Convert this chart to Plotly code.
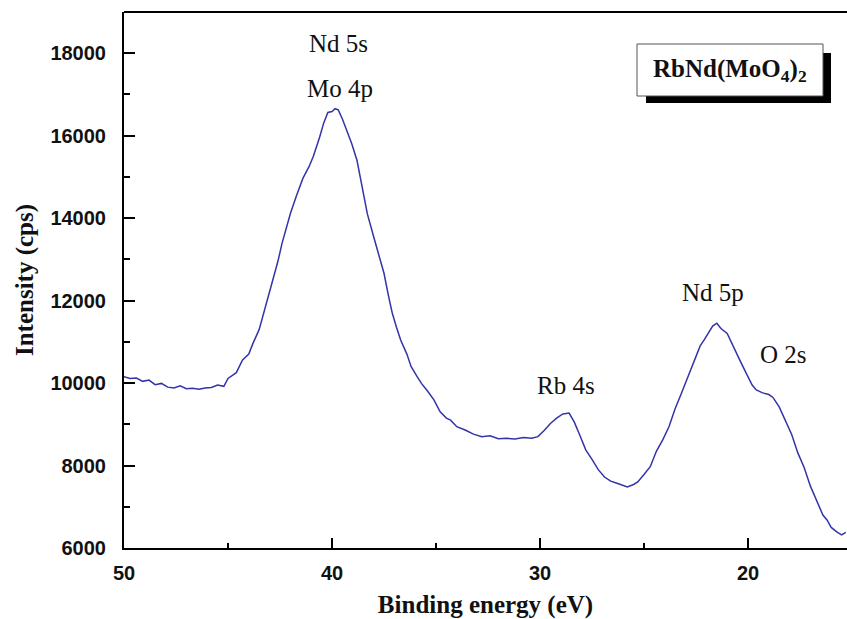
import plotly.graph_objects as go

# Binding energy (eV) and intensity (cps)
energy = [50.0, 49.7, 49.4, 49.1, 48.8, 48.5, 48.2, 47.9, 47.6, 47.3, 47.0, 46.7, 46.4, 46.1,
          45.8, 45.5, 45.2, 45.0, 44.6, 44.3, 44.0, 43.8, 43.5, 43.2, 42.95, 42.8, 42.6, 42.4,
          42.2, 42.0, 41.7, 41.4, 41.1, 40.9, 40.6, 40.4, 40.2, 40.0, 39.85, 39.7, 39.5, 39.3,
          39.05, 38.8, 38.5, 38.3, 38.0, 37.7, 37.5, 37.3, 37.1, 36.9, 36.7, 36.4, 36.2, 35.9,
          35.7, 35.4, 35.1, 34.8, 34.5, 34.3, 34.0, 33.6, 33.2, 32.8, 32.4, 32.0, 31.6, 31.2,
          30.8, 30.4, 30.1, 29.8, 29.5, 29.2, 28.9, 28.6, 28.35, 28.1, 27.8, 27.5, 27.2, 26.9,
          26.6, 26.3, 26.0, 25.8, 25.5, 25.3, 25.0, 24.7, 24.4, 24.1, 23.8, 23.5, 23.2, 22.9,
          22.6, 22.3, 22.1, 21.9, 21.7, 21.5, 21.3, 21.0, 20.7, 20.4, 20.1, 19.8, 19.6, 19.3,
          19.0, 18.8, 18.5, 18.2, 17.9, 17.6, 17.3, 17.0, 16.7, 16.4, 16.2, 16.0, 15.7, 15.5, 15.3]
intensity = [10150, 10110, 10120, 10040, 10070, 9960, 9990, 9900, 9880, 9930, 9860, 9870, 9850, 9880,
             9890, 9950, 9920, 10110, 10250, 10560, 10700, 10960, 11300, 11850, 12350, 12580, 12950, 13390,
             13750, 14110, 14550, 14960, 15250, 15490, 15950, 16300, 16560, 16580, 16650, 16620, 16400, 16130,
             15800, 15400, 14600, 14100, 13550, 13000, 12660, 12150, 11690, 11350, 11040, 10700, 10400, 10150,
             9990, 9800, 9590, 9300, 9150, 9100, 8940, 8860, 8760, 8700, 8720, 8650, 8660, 8640,
             8680, 8660, 8700, 8850, 9020, 9150, 9250, 9270, 9050, 8750, 8380, 8150, 7900, 7720,
             7620, 7570, 7520, 7480, 7540, 7600, 7780, 7970, 8350, 8620, 8940, 9380, 9750, 10150,
             10500, 10900, 11050, 11200, 11380, 11450, 11320, 11200, 10900, 10560, 10250, 9950, 9830, 9760,
             9720, 9650, 9420, 9100, 8750, 8300, 7950, 7500, 7150, 6800, 6680, 6500, 6380, 6320, 6380]

peak_labels = ["Nd 5s", "Mo 4p", "Rb 4s", "Nd 5p", "O 2s"]
peak_x = [39.7, 39.6, 28.75, 21.7, 18.3]
peak_y = [18240, 17150, 9950, 12200, 10680]

x_ticks = [50, 40, 30, 20]
x_tick_text = ["50", "40", "30", "20"]
y_ticks = [6000, 8000, 10000, 12000, 14000, 16000, 18000]
y_tick_text = ["6000", "8000", "10000", "12000", "14000", "16000", "18000"]

W, H = 847, 619
L, R, T, B = 124, 0, 12, 71
pw, ph = W - L - R, H - T - B


def px(x):
    return (x - L) / pw


def py(y):
    return (H - B - y) / ph


fig = go.Figure()
fig.add_trace(go.Scatter(x=energy, y=intensity, mode="lines",
                         line=dict(color="#3333AA", width=1.5), showlegend=False))

for t, x, y in zip(peak_labels, peak_x, peak_y):
    fig.add_annotation(x=x, y=y, text=t, showarrow=False, xanchor="center", yanchor="middle",
                       font=dict(family="Liberation Serif", size=25, color="#111"))

# sample label box with shadow
fig.add_shape(type="rect", xref="paper", yref="paper",
              x0=px(646), x1=px(831), y0=py(103), y1=py(53),
              fillcolor="black", line=dict(width=0), layer="below")
fig.add_shape(type="rect", xref="paper", yref="paper",
              x0=px(637), x1=px(823), y0=py(96), y1=py(44),
              fillcolor="white", line=dict(color="#555", width=1), layer="below")
fig.add_annotation(xref="paper", yref="paper", x=px(730), y=py(71),
                   xanchor="center", yanchor="middle",
                   text="<b>RbNd(MoO<sub>4</sub>)<sub>2</sub></b>", showarrow=False,
                   font=dict(family="Liberation Serif", size=25, color="#111"))
# top frame line
fig.add_shape(type="line", xref="paper", yref="paper", x0=0, x1=1, y0=1, y1=1,
              line=dict(color="black", width=2))

fig.update_layout(
    width=W, height=H, margin=dict(l=L, r=R, t=T, b=B),
    plot_bgcolor="white", paper_bgcolor="white",
    xaxis=dict(range=[50, 50 - pw / 20.8], tickvals=x_ticks, ticktext=x_tick_text,
               showgrid=False, zeroline=False, showline=True, linecolor="black", linewidth=2,
               ticks="inside", ticklen=10, tickwidth=2, tickcolor="black",
               minor=dict(ticks="inside", ticklen=5, tickwidth=2, tickcolor="black", dtick=5),
               tickfont=dict(family="Liberation Sans", size=20, color="#111", weight="bold"),
               ticklabelstandoff=6,
               title=dict(text="<b>Binding energy (eV)</b>", standoff=14,
                          font=dict(family="Liberation Serif", size=25, color="#111"))),
    yaxis=dict(range=[6000, 6000 + ph / 0.04125], tickvals=y_ticks, ticktext=y_tick_text,
               showgrid=False, zeroline=False, showline=True, linecolor="black", linewidth=2,
               ticks="inside", ticklen=11, tickwidth=2, tickcolor="black",
               minor=dict(ticks="inside", ticklen=6, tickwidth=2, tickcolor="black", dtick=1000),
               tickfont=dict(family="Liberation Sans", size=20, color="#111", weight="bold"),
               ticklabelstandoff=12,
               title=dict(text="<b>Intensity (cps)</b>", standoff=10,
                          font=dict(family="Liberation Serif", size=25, color="#111"))),
)

fig.write_html("out.html")
